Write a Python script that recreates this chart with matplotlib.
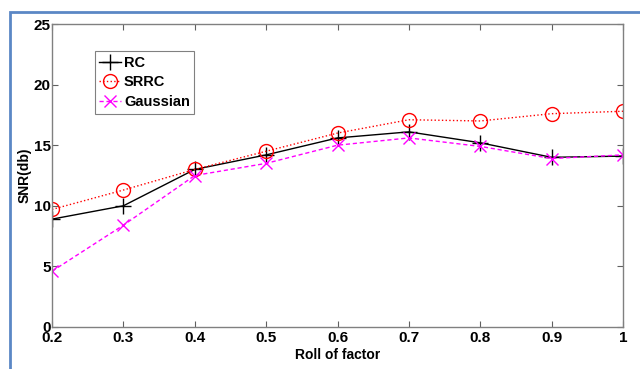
import matplotlib.pyplot as plt
from matplotlib.patches import Rectangle
import numpy as np

roll_factor = [0.2, 0.3, 0.4, 0.5, 0.6, 0.7, 0.8, 0.9, 1.0]
snr_rc = [8.9, 10.0, 13.0, 14.2, 15.6, 16.1, 15.2, 14.0, 14.1]
snr_srrc = [9.7, 11.3, 13.0, 14.5, 16.0, 17.1, 17.0, 17.6, 17.8]
snr_gauss = [4.6, 8.4, 12.5, 13.5, 15.0, 15.6, 14.9, 13.9, 14.2]

xticks = [0.2, 0.3, 0.4, 0.5, 0.6, 0.7, 0.8, 0.9, 1]
xticklabels = ['0.2', '0.3', '0.4', '0.5', '0.6', '0.7', '0.8', '0.9', '1']
yticks = [0, 5, 10, 15, 20, 25]

plt.rcParams['font.family'] = ['Liberation Sans Narrow', 'Liberation Sans', 'DejaVu Sans']
plt.rcParams['font.weight'] = 'bold'

fig = plt.figure(figsize=(6.4, 3.69), dpi=100)
# blue frame around the figure (screenshot border)
fig.patches.append(Rectangle((10 / 640, -0.05), 1.2, 1 - 12 / 369 + 0.05,
                             transform=fig.transFigure, fill=False,
                             edgecolor='#5b87c5', linewidth=2.0))
ax = fig.add_axes([52 / 640, 1 - 327 / 369, (623 - 52) / 640, (327 - 24) / 369])

ax.plot(roll_factor, snr_rc, color='black', linestyle='-', linewidth=1.0,
        marker='+', markersize=11, markeredgewidth=1.0, label='RC')
ax.plot(roll_factor, snr_srrc, color='red', linestyle=':', linewidth=1.0,
        marker='o', markersize=10, markerfacecolor='none', markeredgewidth=1.0,
        label='SRRC')
ax.plot(roll_factor, snr_gauss, color='magenta', linestyle='--', linewidth=1.0,
        dashes=(3, 2), marker='x', markersize=8, markeredgewidth=1.0,
        label='Gaussian')

ax.set_xlim(0.2, 1.0)
ax.set_ylim(0, 25)
ax.set_xticks(xticks)
ax.set_xticklabels(xticklabels)
ax.set_yticks(yticks)
ax.tick_params(direction='in', length=4, width=0.8, color='#606060',
               top=True, right=True, labelsize=11)
ax.tick_params(axis='x', pad=3)
ax.tick_params(axis='y', pad=1)
for lbl in ax.get_xticklabels() + ax.get_yticklabels():
    lbl.set_fontweight('bold')
for sp in ax.spines.values():
    sp.set_color('#808080')
    sp.set_linewidth(1.0)

ax.set_xlabel('Roll of factor', fontsize=10, fontweight='bold', labelpad=2)
ax.set_ylabel('SNR(db)', fontsize=10, fontweight='bold')
ax.yaxis.set_label_coords(-0.035, 0.5)

leg = ax.legend(loc='upper left', bbox_to_anchor=(0.075, 0.91), fontsize=10.5,
                handlelength=1.5, handletextpad=0.2, borderpad=0.3,
                labelspacing=0.4, fancybox=False, framealpha=1,
                borderaxespad=0)
leg.get_frame().set_edgecolor('#808080')
leg.get_frame().set_linewidth(0.8)
for t in leg.get_texts():
    t.set_fontweight('bold')

fig.savefig('out.png', dpi=100)
